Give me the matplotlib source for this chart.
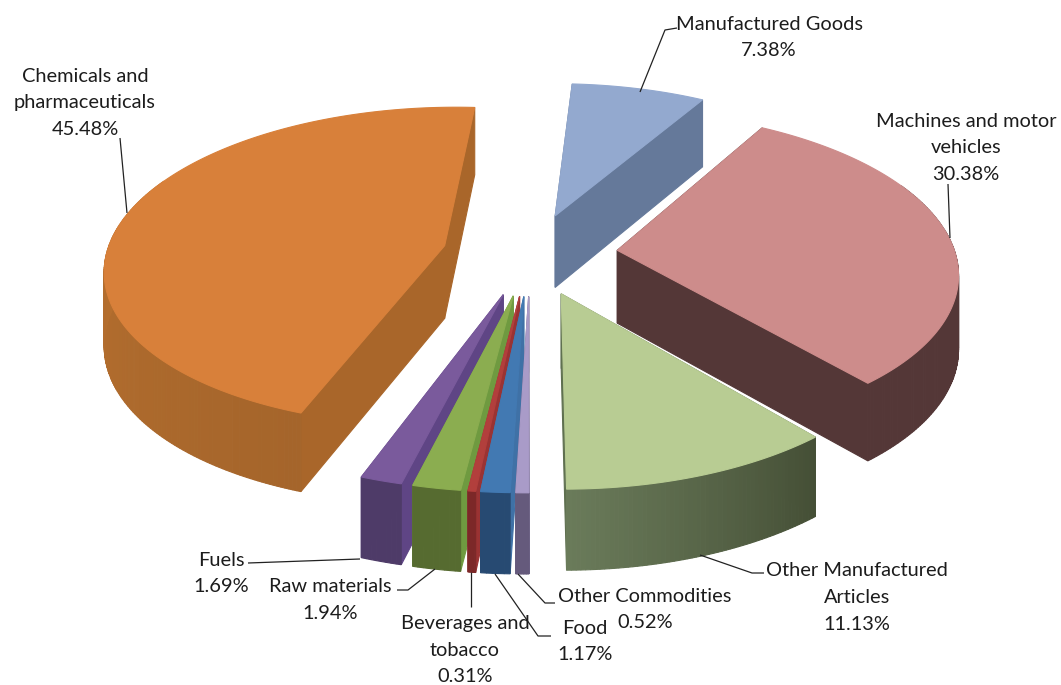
import numpy as np
import matplotlib
matplotlib.use("Agg")
import matplotlib.pyplot as plt
from matplotlib.patches import Polygon

# Share of each category, clockwise from the top of the pie
categories = ["Manufactured Goods", "Machines and motor\nvehicles", "Other Manufactured\nArticles",
              "Other Commodities", "Food", "Beverages and\ntobacco", "Raw materials", "Fuels",
              "Chemicals and\npharmaceuticals"]
shares = [7.38, 30.38, 11.13, 0.52, 1.17, 0.31, 1.94, 1.69, 45.48]

top_colors = ["#93A9CF", "#CD8C8B", "#B8CC93", "#A99BC8", "#4279B2", "#B23F3C", "#8BAD50", "#7A5A9C", "#D8803A"]
rim_from = ["#65799A", "#543737", "#454F36", "#655A7C", "#274A72", "#7C2828", "#566B30", "#4E3B68", "#C87A32"]
rim_to = ["#65799A", "#543737", "#6A7B5A", "#655A7C", "#274A72", "#7C2828", "#566B30", "#4E3B68", "#A5652B"]
cut_colors = ["#65799A", "#543737", "#5F7050", "#6A5F85", "#3F71A6", "#9A3333", "#6F9A40", "#5F4585", "#A9662A"]

# Projection of the tilted disc onto the canvas
CX, CY = 530.0, 254.0
RX, RY = 338.0, 158.5
PERSP = 0.13
SKEW = 0.012
DEPTH = 73.0
DEPTH_PERSP = 0.08
EXPLODE = 0.26
ROTATION = 3.6


def project(x, y, z=0.0):
    w = 1.0 + PERSP * y
    sy = -RY * y / w
    return CX + RX * x / w - SKEW * sy, CY + sy + DEPTH * z / (1.0 + DEPTH_PERSP * y)


def hex_mix(a, b, t):
    ca, cb = np.array(matplotlib.colors.to_rgb(a)), np.array(matplotlib.colors.to_rgb(b))
    return tuple(ca + (cb - ca) * t)


def draw_face(ax, pts, color, z):
    ax.add_patch(Polygon(pts, closed=True, facecolor=color, edgecolor=color, linewidth=0.8, zorder=z))


fig = plt.figure(figsize=(10.61, 6.85), dpi=100)
ax = fig.add_axes([0, 0, 1, 1])
ax.set_xlim(0, 1061)
ax.set_ylim(685, 0)
ax.axis("off")

plt.rcParams["font.family"] = ["Lato", "DejaVu Sans"]

edges = np.cumsum([0.0] + shares) / sum(shares) * 360.0 + ROTATION
slices = []
for i in range(len(shares)):
    a0, a1 = np.radians(edges[i]), np.radians(edges[i + 1])
    mid = (a0 + a1) / 2
    ox, oy = EXPLODE * np.sin(mid), EXPLODE * np.cos(mid)
    slices.append((oy, i, a0, a1, ox, oy))

# Far slices first so that nearer ones cover them
base_z = 1
for oy, i, a0, a1, ox, oy in sorted(slices, key=lambda s: -s[0]):
    theta = np.linspace(a0, a1, max(6, int(np.degrees(a1 - a0) * 1.5)))
    rim_x, rim_y = ox + np.sin(theta), oy + np.cos(theta)
    top = [project(ox, oy)] + [project(x, y) for x, y in zip(rim_x, rim_y)]

    # Straight cut faces
    for ax_, ay_ in ((rim_x[0], rim_y[0]), (rim_x[-1], rim_y[-1])):
        quad = [project(ox, oy), project(ax_, ay_), project(ax_, ay_, 1), project(ox, oy, 1)]
        draw_face(ax, quad, cut_colors[i], base_z)
    # Curved outer wall, one facet per step
    for k in range(len(theta) - 1):
        if np.cos((theta[k] + theta[k + 1]) / 2) > 0.05 and abs(np.sin((theta[k] + theta[k + 1]) / 2)) < 0.9:
            continue
        t = k / max(1, len(theta) - 2)
        if i == len(shares) - 1:
            t = 1 - t
        quad = [project(rim_x[k], rim_y[k]), project(rim_x[k + 1], rim_y[k + 1]),
                project(rim_x[k + 1], rim_y[k + 1], 1), project(rim_x[k], rim_y[k], 1)]
        draw_face(ax, quad, hex_mix(rim_from[i], rim_to[i], t), base_z + 1)
    draw_face(ax, top, top_colors[i], base_z + 2)
    base_z += 3

# Label anchors (centre of the first line) and leader lines on the canvas
label_xy = [(769, 24), (966, 121), (857, 571), (645, 596), (585, 628), (465, 624), (330, 587), (221, 560), (85, 76)]
LINE_STEP = 26.5
leaders = [[(677, 28), (665, 30), (640, 92)],
           [(948, 184), (950, 238)],
           [(764, 573), (752, 573), (700, 555)],
           [(555, 603), (545, 603), (518, 574)],
           [(551, 636), (538, 636), (495, 574)],
           [(471, 607), (471, 572)],
           [(397, 590), (408, 590), (435, 569)],
           [(248, 563), (360, 559)],
           [(120, 138), (127, 213)]]

for name, share, (lx, ly), path in zip(categories, shares, label_xy, leaders):
    lines = name.split("\n") + [f"{share:.2f}%"]
    for n, line in enumerate(lines):
        ax.text(lx, ly + n * LINE_STEP, line, ha="center", va="center", fontsize=14.4,
                color="#1c1c1c", zorder=100)
    xs, ys = zip(*path)
    ax.plot(xs, ys, color="#222222", lw=0.9, zorder=99, solid_capstyle="butt")

fig.savefig("out.png", dpi=100, facecolor="white")
